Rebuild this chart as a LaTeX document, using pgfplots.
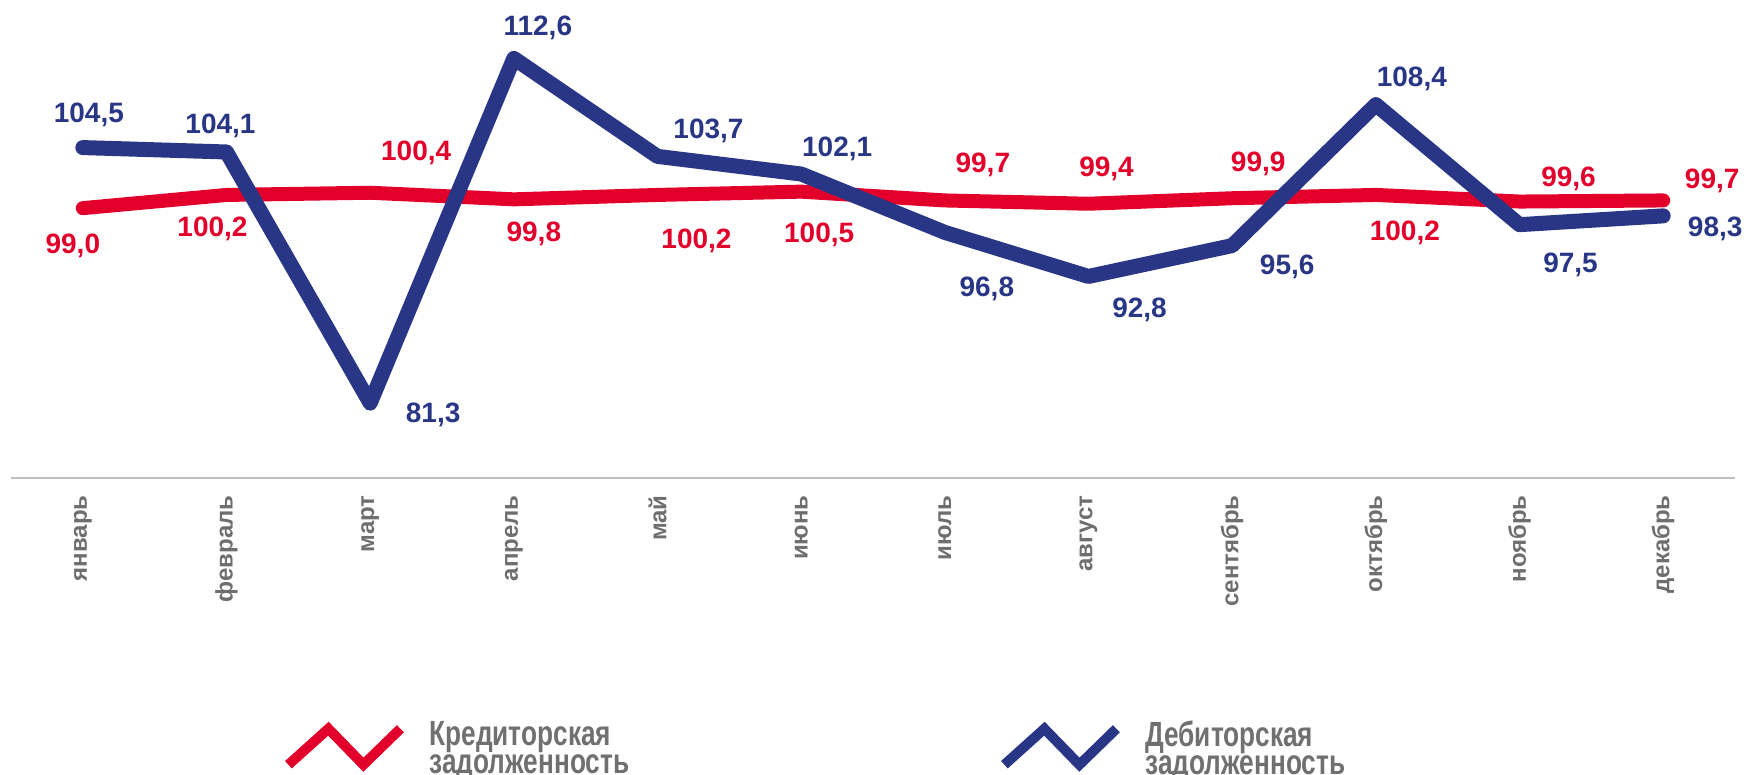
\documentclass[border=0pt]{standalone}
\usepackage{fontspec}
\setmainfont{Liberation Sans}
\newfontfamily\legfont[FakeStretch=0.75]{Liberation Sans}
\usepackage{pgfplots}
\pgfplotsset{compat=1.18}
\usepackage{pgfplotstable}
\definecolor{kred}{RGB}{226,0,43}
\definecolor{dblue}{RGB}{41,54,133}
\definecolor{tgray}{RGB}{110,110,110}
\definecolor{lgray}{RGB}{112,112,112}
\definecolor{agray}{RGB}{190,190,190}

% x: month index, y: value, dx/dy: label offset (pt)
\pgfplotstableread{
x y dx dy
0 99.0 -5 -17.5
1 100.2 -7 -16
2 100.4 23 21
3 99.8 10 -16
4 100.2 19.5 -22
5 100.5 9 -20.5
6 99.7 19 19
7 99.4 9 18.5
8 99.9 13 18.5
9 100.2 14.5 -18
10 99.6 24.5 12.5
11 99.7 24.5 11
}\kredtab

\pgfplotstableread{
x y dx dy
0 104.5 3 17.5
1 104.1 -3 14
2 81.3 31.5 -4.5
3 112.6 12 16.5
4 103.7 25.5 14
5 102.1 18 14
6 96.8 21 -27
7 92.8 25.5 -15.5
8 95.6 27.5 -9.5
9 108.4 18 14
10 97.5 25.5 -19
11 98.3 26 -5.5
}\dbltab

\begin{document}
\begin{tikzpicture}
\begin{axis}[
  scale only axis,
  width=862pt, height=239pt,
  xmin=-0.5, xmax=11.5,
  ymin=74.5, ymax=117.9,
  axis y line=none,
  axis x line*=bottom,
  x axis line style={draw=agray, line width=1.3pt},
  xtick={0,1,2,3,4,5,6,7,8,9,10,11},
  xticklabels={январь,февраль,март,апрель,май,июнь,июль,август,сентябрь,октябрь,ноябрь,декабрь},
  major tick length=0pt,
  xticklabel shift=8.5pt,
  x tick label style={rotate=90, anchor=east, inner sep=0pt, font=\bfseries\fontsize{12}{14}\selectfont, text=tgray},
  clip=false,
  legend style={at={(axis description cs:0.15777,-0.5594)}, anchor=west, draw=none, fill=none, inner sep=0pt,
    legend columns=2,
    nodes={inner sep=0pt},
    /tikz/every odd column/.append style={column sep=12pt},
    /tikz/every even column/.append style={column sep=165pt}},
  legend cell align=left,
  nodes near coords={\pgfmathprintnumber[fixed,fixed zerofill,precision=1,use comma,assume math mode=true]{\pgfplotspointmeta}},
  point meta=y,
]
\addplot[kred, line width=7pt, line cap=round, line join=round, mark=none,
  visualization depends on={\thisrow{dx}\as\dx},
  visualization depends on={\thisrow{dy}\as\dy},
  every node near coord/.append style={anchor=base, inner sep=0pt, font=\bfseries\fontsize{14}{16}\selectfont, text=kred, xshift=\dx pt, yshift=\dy pt - 5pt},
  legend image code/.code={\draw[kred, line width=5pt, line cap=butt, line join=miter] (0pt,-12.3pt) -- (20pt,5.7pt) -- (37.5pt,-12.3pt) -- (56pt,5.7pt);}
] table[x=x,y=y] {\kredtab};
\addlegendentry{\parbox[c]{120pt}{\legfont\bfseries\fontsize{17.5}{13.8}\selectfont\lineskiplimit=-20pt\color{lgray}Кредиторская\\задолженность}}
\addplot[dblue, line width=7.5pt, line cap=round, line join=round, mark=none,
  visualization depends on={\thisrow{dx}\as\dx},
  visualization depends on={\thisrow{dy}\as\dy},
  every node near coord/.append style={anchor=base, inner sep=0pt, font=\bfseries\fontsize{14}{16}\selectfont, text=dblue, xshift=\dx pt, yshift=\dy pt - 5pt},
  legend image code/.code={\draw[dblue, line width=5pt, line cap=butt, line join=miter] (0pt,-12.3pt) -- (20pt,5.7pt) -- (37.5pt,-12.3pt) -- (56pt,5.7pt);}
] table[x=x,y=y] {\dbltab};
\addlegendentry{\parbox[c]{120pt}{\legfont\bfseries\fontsize{17.5}{13.8}\selectfont\lineskiplimit=-20pt\color{lgray}Дебиторская\\задолженность}}
\end{axis}
\pgfresetboundingbox
\path[use as bounding box] ([xshift=-5.5pt,yshift=-148.5pt]current axis.south west) rectangle ([xshift=4.5pt]current axis.north east);
\end{tikzpicture}
\end{document}
